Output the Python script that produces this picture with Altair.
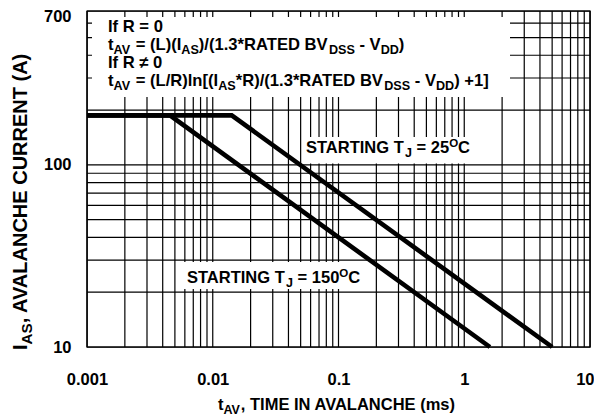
import altair as alt
import pandas as pd
import math

# ---------------- data ----------------
t_25 = [0.001, 0.01415, 5.0]
i_25 = [187, 187, 10]
t_150 = [0.001, 0.00457, 1.6]
i_150 = [187, 187, 10]

x_grid = [k * 10.0 ** d for d in range(-3, 1) for k in range(1, 10)] + [10.0]
y_grid = [10, 20, 30, 40, 50, 60, 70, 80, 90, 100, 200, 300, 400, 500, 600, 700]
x_labels = [0.001, 0.01, 0.1, 1, 10]
y_labels = [10, 100, 700]

# ---------------- layout ----------------
W, H = 503, 336
PL, PT = 79, 3
XMIN, XMAX = 0.001, 10.0
YMIN, YMAX = 10.0, 700.0
FONT = "Liberation Sans"
FS = 16.5

def px_to_x(px):
    return 10 ** (math.log10(XMIN) + (px - PL - 8) / W * (math.log10(XMAX) - math.log10(XMIN)))

def px_to_y(py):
    return 10 ** (math.log10(YMAX) - (py - PT - 8) / H * (math.log10(YMAX) - math.log10(YMIN)))

# Arial/Liberation Sans Bold advance widths (per 1000 em)
AW = {' ': 278, '!': 333, '(': 333, ')': 333, '*': 389, '+': 584, ',': 278, '-': 333,
      '.': 278, '/': 278, '=': 584, '[': 333, ']': 333, '\u2260': 549,
      'A': 722, 'B': 722, 'C': 722, 'D': 722, 'E': 667, 'F': 611, 'G': 778, 'H': 722, 'I': 278,
      'J': 556, 'K': 722, 'L': 611, 'M': 833, 'N': 722, 'O': 778, 'P': 667, 'Q': 778, 'R': 722,
      'S': 667, 'T': 611, 'U': 722, 'V': 667, 'W': 944, 'X': 667, 'Y': 667, 'Z': 611,
      'a': 556, 'b': 611, 'c': 556, 'd': 611, 'e': 556, 'f': 333, 'g': 611, 'h': 611, 'i': 278,
      'j': 278, 'k': 556, 'l': 278, 'm': 889, 'n': 611, 'o': 611, 'p': 611, 'q': 611, 'r': 389,
      's': 556, 't': 333, 'u': 611, 'v': 556, 'w': 778, 'x': 556, 'y': 556, 'z': 500}
for ch in '0123456789':
    AW[ch] = 556

def tw(s, size):
    return sum(AW.get(c, 600) for c in s) * size / 1000.0

def seg_size(kind, fs):
    return fs if kind == 'n' else (fs * 0.76 if kind == 'sub' else fs * 0.7)

def rich(parts, x0, y0, fs=FS, angle=0):
    """parts: list of (text, kind) kind in n/sub/sup; x0,y0 in page px (baseline start).
    Leading / trailing blanks are turned into advances so no space is ever rendered at an edge."""
    rows = []
    off = 0.0
    for text, kind in parts:
        size = seg_size(kind, fs)
        shift = 0 if kind == 'n' else (fs * 0.25 if kind == 'sub' else -fs * 0.38)
        lead = len(text) - len(text.lstrip(' '))
        core = text.strip(' ')
        trail = len(text) - lead - len(core)
        off += tw(' ' * lead, size)
        if angle == 0:
            px, py = x0 + off, y0 + shift
        else:  # rotated 270: text runs upward, "down" points right
            px, py = x0 + shift, y0 - off
        rows.append({'x': px_to_x(px), 'y': px_to_y(py), 'txt': core, 'fs': size})
        off += tw(core, size) + tw(' ' * trail, size)
    return rows

def total_width(parts, fs=FS):
    return sum(tw(t, seg_size(k, fs)) for t, k in parts)

FF = 16.6
lines = [
    [("If R = 0", 'n')],
    [("t", 'n'), ("AV", 'sub'), (" = (L)(I", 'n'), ("AS", 'sub'), (")/(1.3*RATED BV", 'n'),
     ("DSS", 'sub'), (" - V", 'n'), ("DD", 'sub'), (")", 'n')],
    [("If R \u2260 0", 'n')],
    [("t", 'n'), ("AV", 'sub'), (" = (L/R)ln[(I", 'n'), ("AS", 'sub'), ("*R)/(1.3*RATED BV", 'n'),
     ("DSS", 'sub'), (" - V", 'n'), ("DD", 'sub'), (") +1]", 'n')],
]
baselines = [32, 49.5, 68, 86]

rows_h = []
for parts, b in zip(lines, baselines):
    rows_h += rich(parts, 108, b, fs=FF)

lab25 = [("STARTING T", 'n'), ("J", 'sub'), (" = 25", 'n'), ("O", 'sup'), ("C", 'n')]
lab150 = [("STARTING T", 'n'), ("J", 'sub'), (" = 150", 'n'), ("O", 'sup'), ("C", 'n')]
rows_h += rich(lab25, 306, 153)
rows_h += rich(lab150, 187, 283)

xt = [("t", 'n'), ("AV", 'sub'), (", TIME IN AVALANCHE (ms)", 'n')]
rows_h += rich(xt, 338 - total_width(xt) / 2, 410)

YFS = 20
yt = [("I", 'n'), ("AS", 'sub'), (", AVALANCHE CURRENT (A)", 'n')]
rows_v = rich(yt, 27, 350, fs=YFS, angle=270)

# white boxes behind annotations (page px -> data)
boxes = pd.DataFrame([
    {'x': px_to_x(92), 'x2': px_to_x(510), 'y': px_to_y(17), 'y2': px_to_y(97)},
    {'x': px_to_x(303), 'x2': px_to_x(470), 'y': px_to_y(137), 'y2': px_to_y(163.5)},
    {'x': px_to_x(183), 'x2': px_to_x(370), 'y': px_to_y(262), 'y2': px_to_y(289)},
])

xs = alt.Scale(type='log', domain=[XMIN, XMAX], nice=False)
ys = alt.Scale(type='log', domain=[YMIN, YMAX], nice=False)

curves = pd.DataFrame(
    [{'t': t, 'i': i, 's': '25', 'o': k} for k, (t, i) in enumerate(zip(t_25, i_25))] +
    [{'t': t, 'i': i, 's': '150', 'o': k} for k, (t, i) in enumerate(zip(t_150, i_150))])

vgrid = alt.Chart(pd.DataFrame({'v': x_grid})).mark_rule(color='black', strokeWidth=1.2).encode(
    x=alt.X('v:Q', scale=xs))
hgrid = alt.Chart(pd.DataFrame({'v': y_grid})).mark_rule(color='black', strokeWidth=1.2).encode(
    y=alt.Y('v:Q', scale=ys))

box_layer = alt.Chart(boxes).mark_rect(color='white').encode(
    x=alt.X('x:Q', scale=xs), x2='x2:Q', y=alt.Y('y:Q', scale=ys), y2='y2:Q')

base_axes = alt.Chart(curves).mark_line(color='black', strokeWidth=4.6, strokeCap='butt',
                                        strokeJoin='miter').encode(
    x=alt.X('t:Q', scale=xs, axis=alt.Axis(
        values=x_labels, labelExpr="format(datum.value, '~g')", title=None, grid=False,
        ticks=False, domain=False, labelFont=FONT, labelFontWeight='bold', labelFontSize=FS,
        labelColor='black', labelPadding=24, labelFlush=False,
        labelAlign={"condition": {"test": "datum.value == 10", "value": "right"}, "value": "center"},
        labelOffset={"condition": {"test": "datum.value == 10", "value": 4}, "value": 0})),
    y=alt.Y('i:Q', scale=ys, axis=alt.Axis(
        values=y_labels, labelExpr="format(datum.value, '~g')", title=None, grid=False,
        ticks=False, domain=False, labelFont=FONT, labelFontWeight='bold', labelFontSize=FS,
        labelColor='black', labelPadding=16, labelFlush=False,
        labelOffset={"condition": {"test": "datum.value == 700", "value": 5}, "value": 0})),
    detail='s:N', order='o:Q')

text_h = alt.Chart(pd.DataFrame(rows_h)).mark_text(
    align='left', baseline='alphabetic', font=FONT, fontWeight='bold', color='black').encode(
    x=alt.X('x:Q', scale=xs), y=alt.Y('y:Q', scale=ys), text='txt:N',
    size=alt.Size('fs:Q', scale=None, legend=None))

text_v = alt.Chart(pd.DataFrame(rows_v)).mark_text(
    align='left', baseline='alphabetic', font=FONT, fontWeight='bold', color='black',
    angle=270).encode(
    x=alt.X('x:Q', scale=xs), y=alt.Y('y:Q', scale=ys), text='txt:N',
    size=alt.Size('fs:Q', scale=None, legend=None))

chart = alt.layer(vgrid, hgrid, box_layer, base_axes, text_h, text_v).properties(
    width=W, height=H,
    padding={'left': PL, 'top': PT, 'right': 586 - PL - W, 'bottom': 410 - PT - H},
    autosize=alt.AutoSizeParams(type='none'),
    background='white'
).configure_view(stroke='black', strokeWidth=1.4)

chart.save("out.html", embed_options={"renderer": "svg", "actions": False})
